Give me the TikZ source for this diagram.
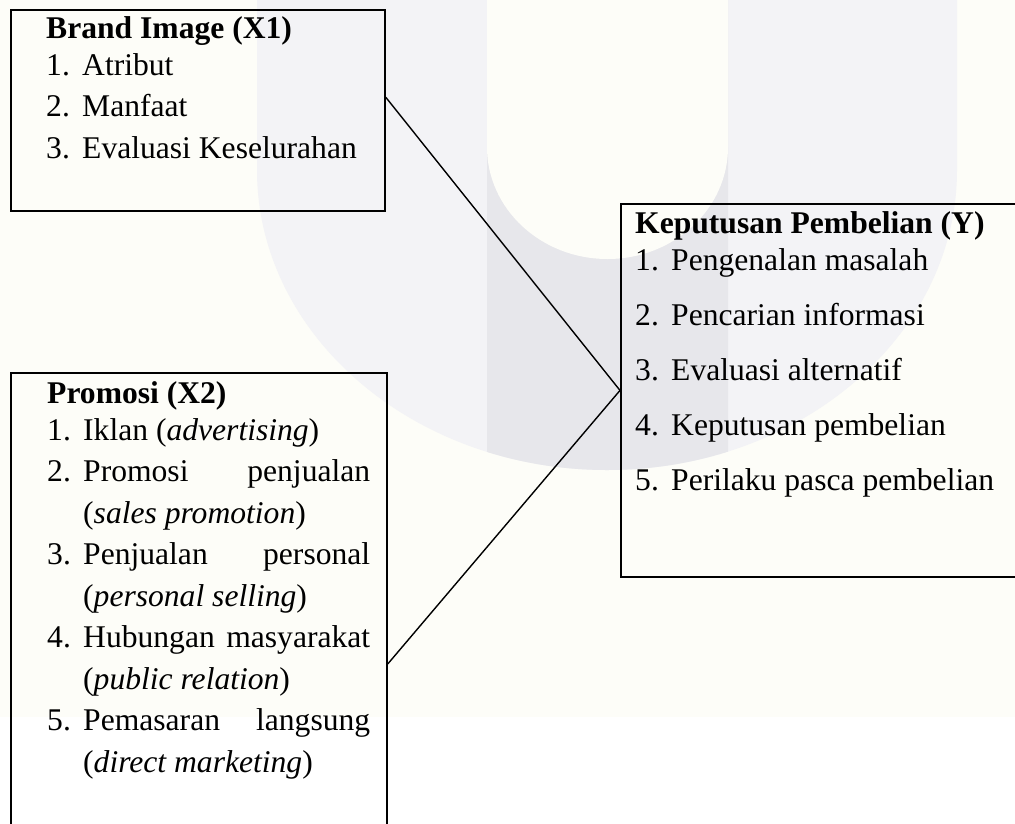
\documentclass[tikz,border=0pt]{standalone}
\usepackage{fontspec}
\setmainfont{Liberation Serif}
\usetikzlibrary{positioning}

\definecolor{paper}{HTML}{FDFDF8}
\definecolor{wmlight}{HTML}{F3F3F6}
\definecolor{wmdark}{HTML}{E7E7EB}

% numbered item, justified line, continuation line
\newcommand{\itm}[2]{\makebox[36pt][l]{#1}#2}
\newcommand{\jst}[1]{\makebox[287pt][s]{#1}}
\newcommand{\cnt}[1]{\hspace*{36pt}#1}

\tikzset{
  varbox/.style={draw,line width=1.8pt,anchor=north west,inner sep=0pt},
  listtext/.style={anchor=base west,inner sep=0pt,font=\fontsize{31.6}{41.5}\selectfont},
  link/.style={line width=1.4pt}
}

\begin{document}
\begin{tikzpicture}[x=1pt,y=-1pt]
  \useasboundingbox (0,0) rectangle (1015,823);
  \clip (0,0) rectangle (1015,823);
  % page and watermark
  \fill[white] (0,0) rectangle (1015,823);
  \fill[paper] (0,0) rectangle (1015,717);
  \fill[wmlight] (257,0) -- (257,170) arc[start angle=180,end angle=0,x radius=350,y radius=300] -- (957,0) -- cycle;
  \begin{scope}
    \clip (487,0) rectangle (728,823);
    \fill[wmdark] (257,0) -- (257,170) arc[start angle=180,end angle=0,x radius=350,y radius=300] -- (957,0) -- cycle;
  \end{scope}
  \fill[paper] (487,0) -- (487,147) arc[start angle=180,end angle=0,x radius=120.5,y radius=112] -- (728,0) -- cycle;

  % variable boxes
  \node[varbox,minimum width=374pt,minimum height=201pt] (brand) at (10,9) {};
  \node[varbox,minimum width=376pt,minimum height=582pt] (promosi) at (10,372) {};
  \node[varbox,minimum width=410pt,minimum height=373pt] (keputusan) at (620,203) {};

  \node[listtext] (brandlist) at (46,38) {\parbox[t]{330pt}{\textbf{Brand Image (X1)}\\[-4.5pt]
    \itm{1.}{Atribut}\\
    \itm{2.}{Manfaat}\\
    \itm{3.}{Evaluasi Keselurahan}}};
  \node[listtext] (promosilist) at (47,403) {\parbox[t]{330pt}{\textbf{Promosi (X2)}\\[-4.5pt]
    \itm{1.}{Iklan (\textit{advertising})}\\
    \itm{2.}{\jst{Promosi penjualan}}\\
    \cnt{(\textit{sales promotion})}\\
    \itm{3.}{\jst{Penjualan personal}}\\
    \cnt{(\textit{personal selling})}\\
    \itm{4.}{\jst{Hubungan masyarakat}}\\
    \cnt{(\textit{public relation})}\\
    \itm{5.}{\jst{Pemasaran langsung}}\\
    \cnt{(\textit{direct marketing})}}};
  \node[listtext] (keputusanlist) at (635,233) {\parbox[t]{370pt}{\textbf{Keputusan Pembelian (Y)}\\[-4.5pt]
    \itm{1.}{Pengenalan masalah}\\[13.5pt]
    \itm{2.}{Pencarian informasi}\\[13.5pt]
    \itm{3.}{Evaluasi alternatif}\\[13.5pt]
    \itm{4.}{Keputusan pembelian}\\[13.5pt]
    \itm{5.}{Perilaku pasca pembelian}}};

  \draw[link] (brand.4) -- (keputusan.west);
  \draw[link] (promosi.east) -- (keputusan.west);
\end{tikzpicture}
\end{document}
